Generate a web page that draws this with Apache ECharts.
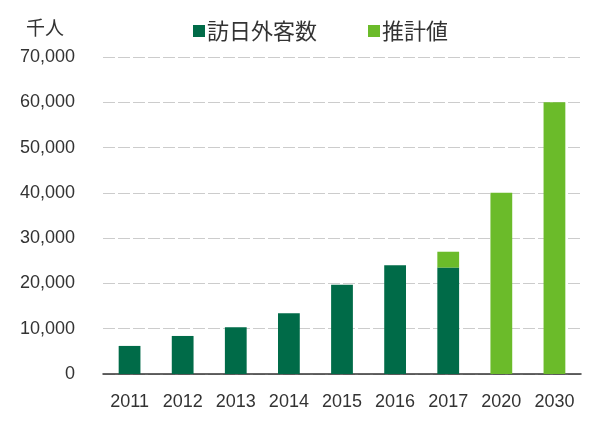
<!DOCTYPE html>
<html><head><meta charset="utf-8">
<script src="https://cdn.jsdelivr.net/npm/echarts@6/dist/echarts.min.js"></script>
<style>html,body{margin:0;padding:0;background:#fff}#c{width:600px;height:433px}</style>
</head><body><div id="c"></div>
<script>
const categories = ['2011','2012','2013','2014','2015','2016','2017','2020','2030'];
const visitors = [6200, 8400, 10300, 13400, 19700, 24000, 23500, null, null];
const estimates = [null, null, null, null, null, null, 3500, 40000, 60000];
const yTicks = [0, 10000, 20000, 30000, 40000, 50000, 60000, 70000];

const narrow = "'Liberation Sans', sans-serif";
const cjk = "'Noto Sans CJK JP', sans-serif";
const chart = echarts.init(document.getElementById('c'), null, {renderer:'canvas'});
chart.setOption({
  animation:false,
  title:{text:'千人', left:21, top:13, textStyle:{fontFamily:cjk, fontSize:19, fontWeight:'normal', color:'#333'}},
  legend:{top:15, left:188, itemGap:51, itemWidth:12, itemHeight:12, icon:'rect',
    textStyle:{fontFamily:cjk, fontSize:22, color:'#333', padding:[0,0,0,-3]},
    data:['訪日外客数','推計値']},
  grid:{left:103, right:19, top:57, bottom:59},
  xAxis:{type:'category', data:categories,
    axisLine:{lineStyle:{color:'#333', width:1.5}}, axisTick:{show:false},
    axisLabel:{fontFamily:narrow, fontSize:18, color:'#333', margin:19, interval:0}},
  yAxis:{type:'value', min:yTicks[0], max:yTicks[yTicks.length-1], interval:10000,
    axisLine:{show:false}, axisTick:{show:false},
    splitLine:{lineStyle:{color:'#ccc', type:[12,3], width:1}},
    axisLabel:{fontFamily:narrow, fontSize:18, color:'#333', margin:28,
      formatter:v=>v.toLocaleString('en-US')}},
  series:[
    {name:'訪日外客数', type:'bar', stack:'t', data:visitors, barWidth:'41%', itemStyle:{color:'#006B48'}},
    {name:'推計値', type:'bar', stack:'t', data:estimates, barWidth:'41%', itemStyle:{color:'#6BBB2A'}}
  ]
});
</script></body></html>
